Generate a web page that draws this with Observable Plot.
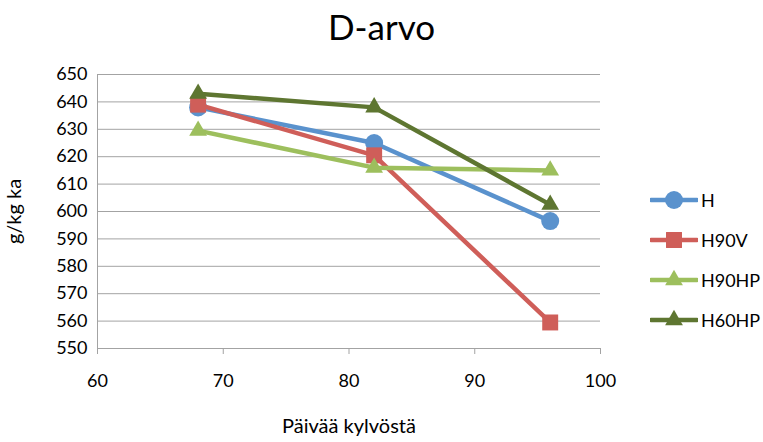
<!DOCTYPE html>
<html>
<head>
<meta charset="utf-8">
<script src="https://cdn.jsdelivr.net/npm/d3@7"></script>
<script src="https://cdn.jsdelivr.net/npm/@observablehq/plot@0.6"></script>
<style>
  body { margin: 0; background: #fff; font-family: Lato, "Open Sans", sans-serif; }
  #wrap { position: relative; width: 763px; height: 442px; }
  #title { height: 60px; width: 763px; text-align: center; font-size: 35px; line-height: 52px; color: #000; padding-left: 0; box-sizing: border-box; }
  #legend { position: absolute; left: 650px; top: 180px; }
  .item { display: flex; align-items: center; height: 40px; font-size: 18px; color: #000; }
  .item svg { margin-right: 3px; }
</style>
</head>
<body>
<div id="wrap">
  <div id="title">D-arvo</div>
  <div id="chart"></div>
  <div id="legend"></div>
</div>
<script>
const days = [68, 82, 96];
const seriesNames = ["H", "H90V", "H90HP", "H60HP"];
const valuesH = [638, 625, 596.5];
const valuesH90V = [639, 620.5, 559.5];
const valuesH90HP = [629.5, 616, 615];
const valuesH60HP = [643, 638, 602.5];
const colors = ["#5A92CD", "#CF5E59", "#9DBF5D", "#5E7631"];
const symbols = ["circle", "square", "triangle", "triangle"];
const symbolR = [9, 9, 6.6, 6.6];
const xTicks = [60, 70, 80, 90, 100];
const yTicks = [550, 560, 570, 580, 590, 600, 610, 620, 630, 640, 650];
const xLabel = "Päivää kylvöstä";
const yLabel = "g/kg ka";

const allValues = [valuesH, valuesH90V, valuesH90HP, valuesH60HP];
const seriesData = seriesNames.map((name, i) =>
  days.map((d, j) => ({ series: name, day: d, value: allValues[i][j] }))
);

const marks = [
  Plot.gridY(yTicks, { stroke: "#a3a3a3", strokeOpacity: 1, strokeWidth: 1 }),
  Plot.ruleX([60], { stroke: "#a3a3a3", strokeWidth: 1 }),
  Plot.ruleY([550], { stroke: "#a3a3a3", strokeWidth: 1 }),
  Plot.axisX(xTicks, { tickSize: 6, stroke: "#a3a3a3", fill: "#000", tickPadding: 20, fontSize: 18, label: null }),
  Plot.axisY(yTicks, { tickSize: 0, tickPadding: 10, fill: "#000", fontSize: 18, label: null })
];
seriesData.forEach((data, i) => {
  marks.push(Plot.line(data, { x: "day", y: "value", stroke: colors[i], strokeWidth: 4.5, strokeLinejoin: "round", strokeLinecap: "round" }));
  marks.push(Plot.dot(data, { x: "day", y: "value", symbol: () => symbols[i], r: symbolR[i], fill: colors[i], stroke: "none" }));
});
marks.push(Plot.text([xLabel], { frameAnchor: "bottom", dy: 84, fontSize: 20, fill: "#000" }));
marks.push(Plot.text([yLabel], { frameAnchor: "left", textAnchor: "middle", dx: -83, rotate: -90, fontSize: 20, fill: "#000" }));

const chart = Plot.plot({
  width: 763,
  height: 382,
  marginTop: 14,
  marginBottom: 94,
  marginLeft: 97,
  marginRight: 163,
  style: { fontFamily: "Lato, 'Open Sans', sans-serif", fontSize: "18px", background: "#fff", overflow: "visible" },
  x: { domain: [60, 100] },
  y: { domain: [550, 650] },
  symbol: { type: "identity" },
  marks
});
document.getElementById("chart").appendChild(chart);

const legend = d3.select("#legend");
seriesNames.forEach((name, i) => {
  const item = legend.append("div").attr("class", "item");
  const svg = item.append("svg").attr("width", 48).attr("height", 24);
  svg.append("line").attr("x1", 1).attr("x2", 47).attr("y1", 12).attr("y2", 12)
    .attr("stroke", colors[i]).attr("stroke-width", 4.5).attr("stroke-linecap", "round");
  const sym = { circle: d3.symbolCircle, square: d3.symbolSquare, triangle: d3.symbolTriangle }[symbols[i]];
  svg.append("path").attr("transform", "translate(24,12)")
    .attr("d", d3.symbol(sym, Math.PI * symbolR[i] * symbolR[i])())
    .attr("fill", colors[i]);
  item.append("span").text(name);
});
</script>
</body>
</html>
